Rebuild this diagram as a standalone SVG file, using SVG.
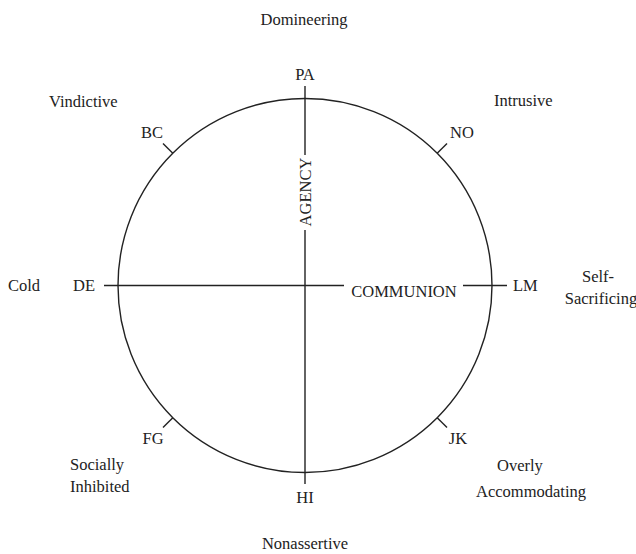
<svg xmlns="http://www.w3.org/2000/svg" width="636" height="554" viewBox="0 0 636 554" font-family="'Liberation Serif', 'DejaVu Serif', 'Times New Roman', serif" font-size="16.5">
<style>
text{font-family:'Liberation Serif','DejaVu Serif','Times New Roman',serif;font-size:16.5px;fill:#222}
.m{text-anchor:middle}
.ln{stroke:#222;stroke-width:1.4;fill:none}
</style>
<rect width="636" height="554" fill="#fff"/>
<g id="connectors">
<circle class="ln" cx="305" cy="285.5" r="187"/>
<line class="ln" x1="305" y1="86" x2="305" y2="155"/>
<line class="ln" x1="305" y1="230" x2="305" y2="484"/>
<line class="ln" x1="104" y1="285.5" x2="344" y2="285.5"/>
<line class="ln" x1="463" y1="285.5" x2="507" y2="285.5"/>
<line class="ln" x1="172.8" y1="153.3" x2="163" y2="143.5"/>
<line class="ln" x1="437.2" y1="153.3" x2="447" y2="143.5"/>
<line class="ln" x1="172.8" y1="417.7" x2="163" y2="427.5"/>
<line class="ln" x1="437.2" y1="417.7" x2="447" y2="427.5"/>
</g>
<g id="axis-agency"><text class="m" transform="translate(311,192) rotate(-90)">AGENCY</text></g>
<g id="axis-communion"><text class="m" x="404" y="297">COMMUNION</text></g>
<g id="PA"><text class="m" x="305" y="80">PA</text><text class="m" x="304" y="25">Domineering</text></g>
<g id="BC"><text class="m" x="152" y="138">BC</text><text x="49" y="107">Vindictive</text></g>
<g id="NO"><text class="m" x="462" y="138">NO</text><text x="494" y="106">Intrusive</text></g>
<g id="DE"><text x="73" y="291">DE</text><text x="8" y="291">Cold</text></g>
<g id="LM"><text x="513" y="291">LM</text><text class="m" x="598" y="282">Self-</text><text class="m" x="601" y="304">Sacrificing</text></g>
<g id="FG"><text class="m" x="153" y="444">FG</text><text x="70" y="470">Socially</text><text x="70" y="492">Inhibited</text></g>
<g id="JK"><text class="m" x="458" y="444">JK</text><text x="497" y="471">Overly</text><text x="476" y="497">Accommodating</text></g>
<g id="HI"><text class="m" x="305" y="503">HI</text><text class="m" x="305" y="549">Nonassertive</text></g>
</svg>
